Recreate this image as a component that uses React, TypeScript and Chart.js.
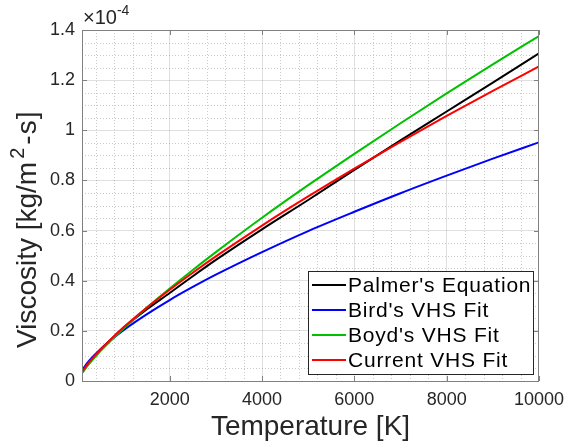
import React, { useEffect, useRef } from "react";
import { Chart, registerables } from "chart.js";

Chart.register(...registerables);

// Temperature samples [K]
const temperatures = [100, 250, 500, 750, 1000, 1500, 2000, 2500, 3000, 4000, 5000, 6000, 7000, 8000, 9000, 10000];
// Viscosity values in units of 1e-4 kg/m^2-s
const palmerEquation = [0.033, 0.072, 0.124, 0.170, 0.212, 0.285, 0.351, 0.418, 0.483, 0.605, 0.722, 0.842, 0.960, 1.075, 1.190, 1.307];
const birdVHSFit = [0.043, 0.080, 0.127, 0.167, 0.203, 0.266, 0.323, 0.375, 0.424, 0.514, 0.598, 0.675, 0.749, 0.819, 0.887, 0.952];
const boydVHSFit = [0.032, 0.067, 0.119, 0.165, 0.209, 0.292, 0.369, 0.443, 0.514, 0.651, 0.781, 0.906, 1.028, 1.147, 1.263, 1.376];
const currentVHSFit = [0.036, 0.074, 0.125, 0.171, 0.214, 0.292, 0.364, 0.432, 0.497, 0.620, 0.736, 0.847, 0.954, 1.057, 1.157, 1.255];

const seriesLabels = ["Palmer's Equation", "Bird's VHS Fit", "Boyd's VHS Fit", "Current VHS Fit"];
const seriesColors = ["#000000", "#0000ff", "#00c000", "#ff0000"];

const xMajorTicks = [2000, 4000, 6000, 8000, 10000];
const xTickLabels = ["2000", "4000", "6000", "8000", "10000"];
const yMajorTicks = [0, 0.2, 0.4, 0.6, 0.8, 1.0, 1.2, 1.4];
const yTickLabels = ["0", "0.2", "0.4", "0.6", "0.8", "1", "1.2", "1.4"];
const xMinorTicks = [400, 800, 1200, 1600, 2400, 2800, 3200, 3600, 4400, 4800, 5200, 5600, 6400, 6800, 7200, 7600, 8400, 8800, 9200, 9600];
const yMinorTicks = [0.05, 0.1, 0.15, 0.25, 0.3, 0.35, 0.45, 0.5, 0.55, 0.65, 0.7, 0.75, 0.85, 0.9, 0.95, 1.05, 1.1, 1.15, 1.25, 1.3, 1.35];

const yTitleMain = "Viscosity [kg/m";
const yTitleSup = "2";
const yTitleTail = "-s]";
const exponentBase = "\u00d710";
const exponentSup = "-4";

const X_MIN = 100;
const X_MAX = 10000;
const Y_MIN = 0;
const Y_MAX = 1.4;

const FONT = "'Liberation Sans', Arial, Helvetica, sans-serif";
const TEXT_COLOR = "#262626";

const toPoints = (ys: number[]) => temperatures.map((t, i) => ({ x: t, y: ys[i] }));

const decorPlugin = {
  id: "matlabDecor",
  beforeDatasetsDraw(chart: any) {
    const { ctx, chartArea, scales } = chart;
    const xs = scales.x;
    const ys = scales.y;
    ctx.save();
    ctx.strokeStyle = "rgba(38,38,38,0.24)";
    ctx.lineWidth = 1;
    ctx.setLineDash([1, 2]);
    for (const v of xMinorTicks) {
      const px = Math.round(xs.getPixelForValue(v)) + 0.5;
      ctx.beginPath();
      ctx.moveTo(px, chartArea.top);
      ctx.lineTo(px, chartArea.bottom);
      ctx.stroke();
    }
    for (const v of yMinorTicks) {
      const py = Math.round(ys.getPixelForValue(v)) + 0.5;
      ctx.beginPath();
      ctx.moveTo(chartArea.left, py);
      ctx.lineTo(chartArea.right, py);
      ctx.stroke();
    }
    ctx.restore();
  },
  afterDraw(chart: any) {
    const { ctx, chartArea, scales } = chart;
    const xs = scales.x;
    const ys = scales.y;
    const { left, right, top, bottom } = chartArea;
    ctx.save();
    // box
    ctx.strokeStyle = "#808080";
    ctx.lineWidth = 1;
    ctx.setLineDash([]);
    ctx.strokeRect(Math.round(left) + 0.5, Math.round(top) + 0.5, Math.round(right - left) - 1, Math.round(bottom - top));
    // inward tick marks
    const tl = 5;
    ctx.beginPath();
    for (const v of xMajorTicks) {
      const px = Math.round(xs.getPixelForValue(v)) + 0.5;
      ctx.moveTo(px, bottom);
      ctx.lineTo(px, bottom - tl);
      ctx.moveTo(px, top);
      ctx.lineTo(px, top + tl);
    }
    for (const v of yMajorTicks) {
      const py = Math.round(ys.getPixelForValue(v)) + 0.5;
      ctx.moveTo(left, py);
      ctx.lineTo(left + tl, py);
      ctx.moveTo(right, py);
      ctx.lineTo(right - tl, py);
    }
    ctx.stroke();

    // exponent label
    ctx.fillStyle = TEXT_COLOR;
    ctx.textAlign = "left";
    ctx.textBaseline = "alphabetic";
    ctx.font = `20px ${FONT}`;
    ctx.fillText(exponentBase, left + 1, top - 6);
    const bw = ctx.measureText(exponentBase).width;
    ctx.font = `14px ${FONT}`;
    ctx.fillText(exponentSup, left + 1 + bw, top - 15);

    // y-axis title (rotated), with real superscript
    ctx.save();
    const startY = 348;
    ctx.translate(28, startY);
    ctx.rotate(-Math.PI / 2);
    ctx.fillStyle = TEXT_COLOR;
    ctx.textBaseline = "middle";
    ctx.textAlign = "left";
    ctx.font = `28px ${FONT}`;
    let cx = 0;
    ctx.fillText(yTitleMain, cx, 0);
    cx += ctx.measureText(yTitleMain).width + 3;
    ctx.font = `20px ${FONT}`;
    ctx.fillText(yTitleSup, cx, -10);
    cx += ctx.measureText(yTitleSup).width + 3;
    ctx.font = `28px ${FONT}`;
    (ctx as any).letterSpacing = "1px";
    ctx.fillText(yTitleTail, cx, 0);
    (ctx as any).letterSpacing = "0px";
    ctx.restore();

    // legend
    const lw = 225;
    const lh = 103;
    const lx = right - 6 - lw;
    const ly = bottom - 7 - lh;
    ctx.fillStyle = "#ffffff";
    ctx.fillRect(lx, ly, lw, lh);
    ctx.strokeStyle = "#262626";
    ctx.lineWidth = 1;
    ctx.strokeRect(Math.round(lx) + 0.5, Math.round(ly) + 0.5, lw, lh);
    ctx.font = `21px ${FONT}`;
    (ctx as any).letterSpacing = "0.8px";
    ctx.textBaseline = "middle";
    chart.data.datasets.forEach((ds: any, i: number) => {
      const cy = ly + 14 + i * 25;
      ctx.strokeStyle = ds.borderColor;
      ctx.lineWidth = 2;
      ctx.beginPath();
      ctx.moveTo(lx + 4, cy);
      ctx.lineTo(lx + 38, cy);
      ctx.stroke();
      ctx.fillStyle = "#000000";
      ctx.fillText(ds.label, lx + 40, cy + 1);
    });
    (ctx as any).letterSpacing = "0px";
    ctx.restore();
  },
};

export default function App() {
  const canvasRef = useRef<HTMLCanvasElement | null>(null);

  useEffect(() => {
    if (!canvasRef.current) return;
    const seriesData = [palmerEquation, birdVHSFit, boydVHSFit, currentVHSFit];
    const chart = new Chart(canvasRef.current, {
      type: "line",
      data: {
        datasets: seriesData.map((ys, i) => ({
          label: seriesLabels[i],
          data: toPoints(ys),
          borderColor: seriesColors[i],
          backgroundColor: seriesColors[i],
          borderWidth: 2,
          pointRadius: 0,
          cubicInterpolationMode: "monotone" as const,
          fill: false,
          order: seriesData.length - 1 - i,
        })),
      },
      options: {
        animation: false,
        responsive: false,
        maintainAspectRatio: false,
        layout: { padding: { top: 30, right: 30, left: 0, bottom: 0 } },
        plugins: {
          legend: { display: false },
          tooltip: { enabled: false },
        },
        scales: {
          x: {
            type: "linear",
            min: X_MIN,
            max: X_MAX,
            afterBuildTicks: (s: any) => {
              s.ticks = xMajorTicks.map((v) => ({ value: v }));
            },
            afterFit: (s: any) => {
              s.height = 65;
            },
            ticks: {
              autoSkip: false,
              maxRotation: 0,
              padding: 8,
              color: TEXT_COLOR,
              font: { family: FONT, size: 18 },
              callback: (v: any) => {
                const idx = xMajorTicks.indexOf(Number(v));
                return idx >= 0 ? xTickLabels[idx] : "";
              },
            },
            grid: {
              color: "rgba(38,38,38,0.15)",
              lineWidth: 1,
              drawTicks: false,
            },
            border: { display: false },
            title: {
              display: true,
              text: "Temperature [K]",
              color: TEXT_COLOR,
              font: { family: FONT, size: 28 },
              padding: { top: 0, bottom: 2 },
            },
          },
          y: {
            type: "linear",
            min: Y_MIN,
            max: Y_MAX,
            afterBuildTicks: (s: any) => {
              s.ticks = yMajorTicks.map((v) => ({ value: v }));
            },
            afterFit: (s: any) => {
              s.width = 82;
            },
            ticks: {
              autoSkip: false,
              padding: 7,
              color: TEXT_COLOR,
              font: { family: FONT, size: 18 },
              callback: (v: any) => {
                const idx = yMajorTicks.findIndex((m) => Math.abs(m - Number(v)) < 1e-9);
                return idx >= 0 ? yTickLabels[idx] : "";
              },
            },
            grid: {
              color: "rgba(38,38,38,0.15)",
              lineWidth: 1,
              drawTicks: false,
            },
            border: { display: false },
            title: { display: false },
          },
        },
      },
      plugins: [decorPlugin],
    });
    return () => chart.destroy();
  }, []);

  return (
    <div style={{ position: "absolute", left: 0, top: 0, width: 572, height: 446, background: "#ffffff" }}>
      <canvas ref={canvasRef} width={572} height={446} style={{ width: 572, height: 446, display: "block" }} />
    </div>
  );
}
